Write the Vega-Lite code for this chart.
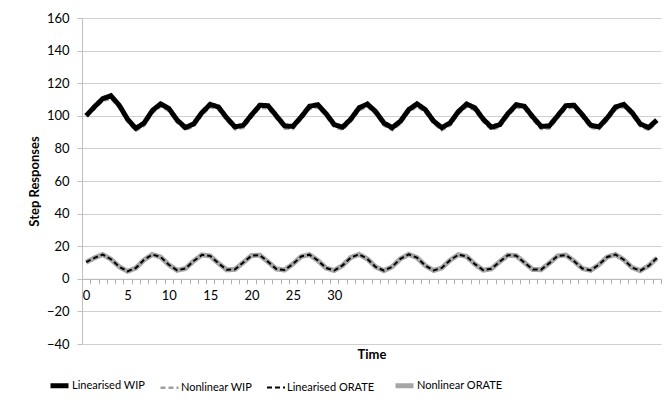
{
  "$schema": "https://vega.github.io/schema/vega-lite/v6.json",
  "width": 579,
  "height": 326,
  "autosize": "none",
  "padding": {"left": 82, "top": 18, "right": 3, "bottom": 68},
  "background": "white",
  "config": {
    "view": {"stroke": null},
    "font": "Lato"
  },
  "data": {
    "values": [
      {"t":0,"LW":100,"NW":100,"LO":10.2,"NO":10.2},
      {"t":1,"LW":105.5,"NW":104.3,"LO":12.8,"NO":12.8},
      {"t":2,"LW":110.5,"NW":109.0,"LO":14.9,"NO":14.9},
      {"t":3,"LW":112.3,"NW":110.7,"LO":12.0,"NO":12.0},
      {"t":4,"LW":106.5,"NW":104.9,"LO":7.4,"NO":7.4},
      {"t":5,"LW":98.0,"NW":96.4,"LO":4.6,"NO":4.6},
      {"t":6,"LW":92.3,"NW":90.7,"LO":6.6,"NO":6.6},
      {"t":7,"LW":95.5,"NW":93.9,"LO":11.6,"NO":11.6},
      {"t":8,"LW":103.2,"NW":101.6,"LO":14.9,"NO":14.9},
      {"t":9,"LW":107.3,"NW":105.7,"LO":13.4,"NO":13.4},
      {"t":10,"LW":104.5,"NW":102.9,"LO":8.6,"NO":8.6},
      {"t":11,"LW":97.4,"NW":95.8,"LO":5.2,"NO":5.2},
      {"t":12,"LW":92.8,"NW":91.2,"LO":6.3,"NO":6.3},
      {"t":13,"LW":95.0,"NW":93.4,"LO":10.9,"NO":10.9},
      {"t":14,"LW":102.0,"NW":100.4,"LO":14.7,"NO":14.7},
      {"t":15,"LW":107.0,"NW":105.4,"LO":14.0,"NO":14.0},
      {"t":16,"LW":105.4,"NW":103.8,"LO":9.5,"NO":9.5},
      {"t":17,"LW":98.7,"NW":97.1,"LO":5.5,"NO":5.5},
      {"t":18,"LW":93.2,"NW":91.6,"LO":5.8,"NO":5.8},
      {"t":19,"LW":94.2,"NW":92.6,"LO":10.0,"NO":10.0},
      {"t":20,"LW":100.6,"NW":99.0,"LO":14.3,"NO":14.3},
      {"t":21,"LW":106.5,"NW":104.9,"LO":14.5,"NO":14.5},
      {"t":22,"LW":106.2,"NW":104.6,"LO":10.4,"NO":10.4},
      {"t":23,"LW":100.0,"NW":98.4,"LO":6.0,"NO":6.0},
      {"t":24,"LW":93.8,"NW":92.2,"LO":5.4,"NO":5.4},
      {"t":25,"LW":93.5,"NW":91.9,"LO":9.1,"NO":9.1},
      {"t":26,"LW":99.3,"NW":97.7,"LO":13.7,"NO":13.7},
      {"t":27,"LW":105.8,"NW":104.2,"LO":14.8,"NO":14.8},
      {"t":28,"LW":106.8,"NW":105.2,"LO":11.3,"NO":11.3},
      {"t":29,"LW":101.4,"NW":99.8,"LO":6.6,"NO":6.6},
      {"t":30,"LW":94.6,"NW":93.0,"LO":5.1,"NO":5.1},
      {"t":31,"LW":93.0,"NW":91.4,"LO":8.2,"NO":8.2},
      {"t":32,"LW":98.0,"NW":96.4,"LO":13.1,"NO":13.1},
      {"t":33,"LW":104.9,"NW":103.3,"LO":15.0,"NO":15.0},
      {"t":34,"LW":107.2,"NW":105.6,"LO":12.2,"NO":12.2},
      {"t":35,"LW":102.6,"NW":101.0,"LO":7.3,"NO":7.3},
      {"t":36,"LW":95.6,"NW":94.0,"LO":5.0,"NO":5.0},
      {"t":37,"LW":92.7,"NW":91.1,"LO":7.4,"NO":7.4},
      {"t":38,"LW":96.7,"NW":95.1,"LO":12.3,"NO":12.3},
      {"t":39,"LW":103.8,"NW":102.2,"LO":15.0,"NO":15.0},
      {"t":40,"LW":107.3,"NW":105.7,"LO":13.0,"NO":13.0},
      {"t":41,"LW":103.8,"NW":102.2,"LO":8.1,"NO":8.1},
      {"t":42,"LW":96.8,"NW":95.2,"LO":5.1,"NO":5.1},
      {"t":43,"LW":92.7,"NW":91.1,"LO":6.7,"NO":6.7},
      {"t":44,"LW":95.6,"NW":94.0,"LO":11.4,"NO":11.4},
      {"t":45,"LW":102.6,"NW":101.0,"LO":14.8,"NO":14.8},
      {"t":46,"LW":107.2,"NW":105.6,"LO":13.7,"NO":13.7},
      {"t":47,"LW":104.9,"NW":103.3,"LO":9.0,"NO":9.0},
      {"t":48,"LW":98.0,"NW":96.4,"LO":5.3,"NO":5.3},
      {"t":49,"LW":93.0,"NW":91.4,"LO":6.1,"NO":6.1},
      {"t":50,"LW":94.6,"NW":93.0,"LO":10.5,"NO":10.5},
      {"t":51,"LW":101.4,"NW":99.8,"LO":14.5,"NO":14.5},
      {"t":52,"LW":106.8,"NW":105.2,"LO":14.2,"NO":14.2},
      {"t":53,"LW":105.8,"NW":104.2,"LO":9.9,"NO":9.9},
      {"t":54,"LW":99.3,"NW":97.7,"LO":5.7,"NO":5.7},
      {"t":55,"LW":93.5,"NW":91.9,"LO":5.6,"NO":5.6},
      {"t":56,"LW":93.8,"NW":92.2,"LO":9.6,"NO":9.6},
      {"t":57,"LW":100.0,"NW":98.4,"LO":14.0,"NO":14.0},
      {"t":58,"LW":106.2,"NW":104.6,"LO":14.6,"NO":14.6},
      {"t":59,"LW":106.5,"NW":104.9,"LO":10.8,"NO":10.8},
      {"t":60,"LW":100.6,"NW":99.0,"LO":6.3,"NO":6.3},
      {"t":61,"LW":94.2,"NW":92.6,"LO":5.2,"NO":5.2},
      {"t":62,"LW":93.2,"NW":91.6,"LO":8.7,"NO":8.7},
      {"t":63,"LW":98.7,"NW":97.1,"LO":13.4,"NO":13.4},
      {"t":64,"LW":105.4,"NW":103.8,"LO":14.9,"NO":14.9},
      {"t":65,"LW":107.0,"NW":105.4,"LO":11.7,"NO":11.7},
      {"t":66,"LW":102.0,"NW":100.4,"LO":6.9,"NO":6.9},
      {"t":67,"LW":95.0,"NW":93.4,"LO":5.0,"NO":5.0},
      {"t":68,"LW":92.8,"NW":91.2,"LO":7.9,"NO":7.9},
      {"t":69,"LW":97.4,"NW":95.8,"LO":12.7,"NO":12.7}
    ]
  },
  "transform": [{"fold": ["LW", "NW", "LO", "NO"], "as": ["series", "v"]}],
  "encoding": {
    "x": {
      "field": "t",
      "type": "ordinal",
      "bandPosition": 0.5,
      "scale": {"type": "band", "paddingInner": 0, "paddingOuter": 0},
      "axis": {
        "title": "Time",
        "titleFont": "Lato",
        "titleFontSize": 13,
        "titleFontWeight": "bold",
        "titleColor": "#000000",
        "titleY": 76,
        "titleX": 289.5,
        "titleBaseline": "middle",
        "offset": -65.2,
        "tickBand": "extent",
        "grid": false,
        "labelAngle": 0,
        "labelExpr": "datum.value % 5 == 0 && datum.value <= 30 ? datum.label : ''",
        "labelOverlap": false,
        "labelFlush": false,
        "labelBound": false,
        "labelFont": "Lato",
        "labelFontSize": 13,
        "labelColor": "#000000",
        "labelPadding": 6,
        "tickSize": 5,
        "tickColor": "#b0b0b0",
        "domainColor": "#b8b8b8"
      }
    },
    "y": {
      "field": "v",
      "type": "quantitative",
      "scale": {"domain": [-40, 160], "nice": false, "zero": false},
      "axis": {
        "title": "Step Responses",
        "titleFont": "Lato",
        "titleFontSize": 13,
        "titleFontWeight": "bold",
        "titleColor": "#000000",
        "titlePadding": 5,
        "values": [-40, -20, 0, 20, 40, 60, 80, 100, 120, 140, 160],
        "labelFont": "Lato",
        "labelFontSize": 13,
        "labelColor": "#000000",
        "labelPadding": 8,
        "tickSize": 5,
        "tickColor": "#bfbfbf",
        "domainColor": "#bfbfbf",
        "grid": true,
        "gridColor": "#d0d0d0"
      }
    },
    "color": {
      "field": "series",
      "type": "nominal",
      "title": null,
      "scale": {"domain": ["LW", "NW", "LO", "NO"], "range": ["#000000", "#a0a0a0", "#000000", "#a6a6a6"]},
      "legend": {
        "orient": "none",
        "legendX": -34,
        "legendY": 356,
        "direction": "horizontal",
        "symbolType": "stroke",
        "symbolSize": 324,
        "labelExpr": "{'LW': 'Linearised WIP', 'NW': 'Nonlinear WIP', 'LO': 'Linearised ORATE', 'NO': 'Nonlinear ORATE'}[datum.label]",
        "labelFont": "Lato",
        "labelFontSize": 11,
        "labelColor": "#000000",
        "labelOffset": 1,
        "columnPadding": 10,
        "padding": 0
      }
    },
    "strokeDash": {
      "field": "series",
      "type": "nominal",
      "title": null,
      "scale": {"domain": ["LW", "NW", "LO", "NO"], "range": [[1, 0], [5, 3], [5, 3], [1, 0]]}
    },
    "strokeWidth": {
      "field": "series",
      "type": "nominal",
      "title": null,
      "scale": {"type": "ordinal", "domain": ["LW", "NW", "LO", "NO"], "range": [5, 2.5, 2, 5]}
    }
  },
  "layer": [
    {
      "transform": [{"filter": "datum.series == 'NW' || datum.series == 'NO'"}],
      "mark": {"type": "line"}
    },
    {
      "transform": [{"filter": "datum.series == 'LW' || datum.series == 'LO'"}],
      "mark": {"type": "line"}
    }
  ]
}
